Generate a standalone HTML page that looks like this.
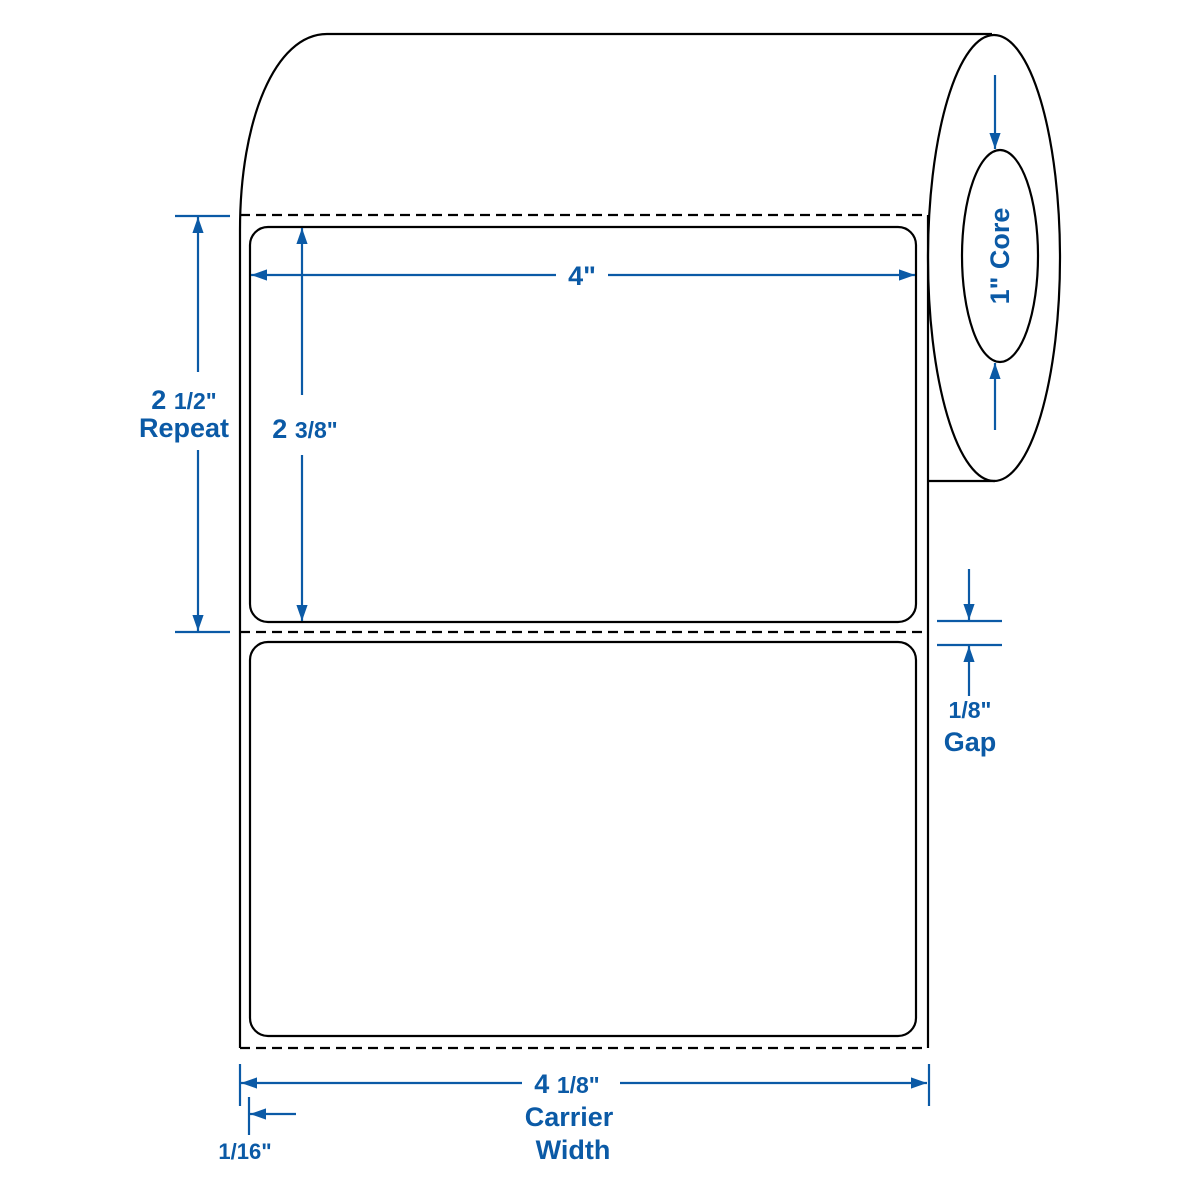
<!DOCTYPE html>
<html><head><style>html,body{margin:0;padding:0;background:#fff}svg{display:block}</style></head>
<body>
<svg width="1200" height="1197" viewBox="0 0 1200 1197" xmlns="http://www.w3.org/2000/svg">
<defs>
<marker id="ah" viewBox="0 0 10 10" refX="10" refY="5" markerWidth="16" markerHeight="16" markerUnits="userSpaceOnUse" orient="auto"><path d="M0,1.5 L10,5 L0,8.5 z" fill="#0b5aa6"/></marker>
</defs>
<g fill="none" stroke="#000" stroke-width="2.2">
<path d="M327 34 H992"/>
<path d="M327 34 C275 34 240 120 240 230 V1048"/>
<path d="M928 215 V1048"/>
<path d="M928 481 H995"/>
<ellipse cx="994" cy="258" rx="66" ry="223"/>
<ellipse cx="1000" cy="256" rx="38" ry="106"/>
<rect x="250" y="227" width="666" height="395" rx="18"/>
<rect x="250" y="642" width="666" height="394" rx="18"/>
<g stroke-dasharray="10,6"><path d="M240 215 H928"/><path d="M240 632 H928"/><path d="M240 1048 H928"/></g>
</g>
<g stroke="#0b5aa6" stroke-width="2.2" fill="none">
<path d="M556 275 H251" marker-end="url(#ah)"/>
<path d="M608 275 H915" marker-end="url(#ah)"/>
<path d="M302 395 V228" marker-end="url(#ah)"/>
<path d="M302 455 V621" marker-end="url(#ah)"/>
<path d="M175 216 H230 M175 632 H230"/>
<path d="M198 372 V217" marker-end="url(#ah)"/>
<path d="M198 450 V631" marker-end="url(#ah)"/>
<path d="M995 75 V149" marker-end="url(#ah)"/>
<path d="M995 430 V363" marker-end="url(#ah)"/>
<path d="M937 621 H1002 M937 645 H1002"/>
<path d="M969 569 V620" marker-end="url(#ah)"/>
<path d="M969 696 V646" marker-end="url(#ah)"/>
<path d="M240 1064 V1106 M929 1064 V1106 M249 1097 V1135"/>
<path d="M522 1083 H241" marker-end="url(#ah)"/>
<path d="M620 1083 H927" marker-end="url(#ah)"/>
<path d="M296 1114 H250" marker-end="url(#ah)"/>
</g>
<g fill="#0b5aa6" font-family="Liberation Sans, sans-serif" font-weight="bold" font-size="27" text-anchor="middle">
<text x="582" y="285">4"</text>
<text x="305" y="438">2 <tspan font-size="23">3/8"</tspan></text>
<text x="184" y="409">2 <tspan font-size="23">1/2"</tspan></text>
<text x="184" y="437">Repeat</text>
<text transform="translate(1009,256) rotate(-90)">1" Core</text>
<text x="970" y="718" font-size="23">1/8"</text>
<text x="970" y="751">Gap</text>
<text x="567" y="1093">4 <tspan font-size="23">1/8"</tspan></text>
<text x="569" y="1126">Carrier</text>
<text x="573" y="1159">Width</text>
<text x="245" y="1159" font-size="22">1/16"</text>
</g>
</svg>
</body></html>
